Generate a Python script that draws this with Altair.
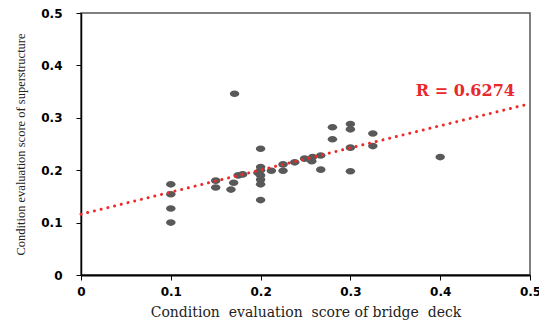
import altair as alt
import pandas as pd

# Condition evaluation scores per bridge
deck_score = [0.100, 0.100, 0.100, 0.100, 0.150, 0.150, 0.167, 0.170, 0.175, 0.180,
              0.200, 0.200, 0.197, 0.200, 0.200, 0.200, 0.200, 0.200, 0.212, 0.225,
              0.225, 0.238, 0.249, 0.257, 0.258, 0.267, 0.267, 0.280, 0.280, 0.300,
              0.300, 0.300, 0.300, 0.325, 0.325, 0.400, 0.171]
super_score = [0.173, 0.154, 0.127, 0.100, 0.180, 0.167, 0.163, 0.176, 0.190, 0.192,
               0.241, 0.206, 0.195, 0.200, 0.190, 0.182, 0.173, 0.143, 0.199, 0.211,
               0.199, 0.215, 0.222, 0.217, 0.225, 0.228, 0.201, 0.259, 0.282, 0.243,
               0.198, 0.288, 0.278, 0.246, 0.270, 0.225, 0.346]

# Linear trend line end points
trend_x = [0.0, 0.5]
trend_y = [0.116, 0.327]

# Correlation annotation
note_text = ["R = 0.6274"]
note_x = [0.428]
note_y = [0.352]

points = pd.DataFrame({"deck": deck_score, "sup": super_score})
trend = pd.DataFrame({"deck": trend_x, "sup": trend_y})
note = pd.DataFrame({"deck": note_x, "sup": note_y, "label": note_text})

ticks = [0, 0.1, 0.2, 0.3, 0.4, 0.5]
nb = "\u00a0"
x_title = f"Condition{nb} evaluation{nb} score of bridge{nb} deck"
y_title = "Condition evaluation score of superstructure"

x_enc = alt.X(
    "deck:Q",
    scale=alt.Scale(domain=[0, 0.5], nice=False, zero=True),
    axis=alt.Axis(
        values=ticks, format="~g", title=x_title, grid=False,
        domainColor="black", domainWidth=2, tickColor="black", tickSize=5,
        labelFont="DejaVu Sans", labelFontWeight="bold", labelFontSize=12,
        labelColor="black", labelPadding=6, labelFlush=False,
        titleFont="DejaVu Serif", titleFontWeight="normal", titleFontSize=14,
        titleColor="#222222", titlePadding=8,
    ),
)
y_enc = alt.Y(
    "sup:Q",
    scale=alt.Scale(domain=[0, 0.5], nice=False, zero=True),
    axis=alt.Axis(
        values=ticks, format="~g", title=y_title, grid=False,
        domainColor="black", domainWidth=1.5, tickColor="black", tickSize=5,
        labelFont="DejaVu Sans", labelFontWeight="bold", labelFontSize=12,
        labelColor="black", labelPadding=14, labelFlush=False,
        titleFont="Liberation Serif", titleFontWeight="normal", titleFontSize=12.5,
        titleColor="#222222", titlePadding=13,
    ),
)

ellipse = "M-1,0A1,0.7 0 1,0 1,0A1,0.7 0 1,0 -1,0Z"

dots = alt.Chart(points).mark_point(
    shape=ellipse, filled=True, size=90, color="#595959", opacity=1
).encode(x=x_enc, y=y_enc)

line = alt.Chart(trend).mark_line(
    color="#F02A2A", strokeWidth=3, strokeDash=[0.01, 6.9], strokeCap="round"
).encode(x="deck:Q", y="sup:Q")

label = alt.Chart(note).mark_text(
    font="DejaVu Serif", fontWeight="bold", fontSize=16, color="#E8282B",
    align="center", baseline="middle"
).encode(x="deck:Q", y="sup:Q", text="label:N")

chart = (
    alt.layer(dots, line, label)
    .properties(
        width=449, height=262,
        autosize=alt.AutoSizeParams(type="none"),
        padding={"left": 81, "top": 13, "right": 9, "bottom": 48},
        background="white",
    )
    .configure_view(stroke="#555555", strokeWidth=1.5)
)

chart.save("out.html", embed_options={"renderer": "svg", "actions": False})
